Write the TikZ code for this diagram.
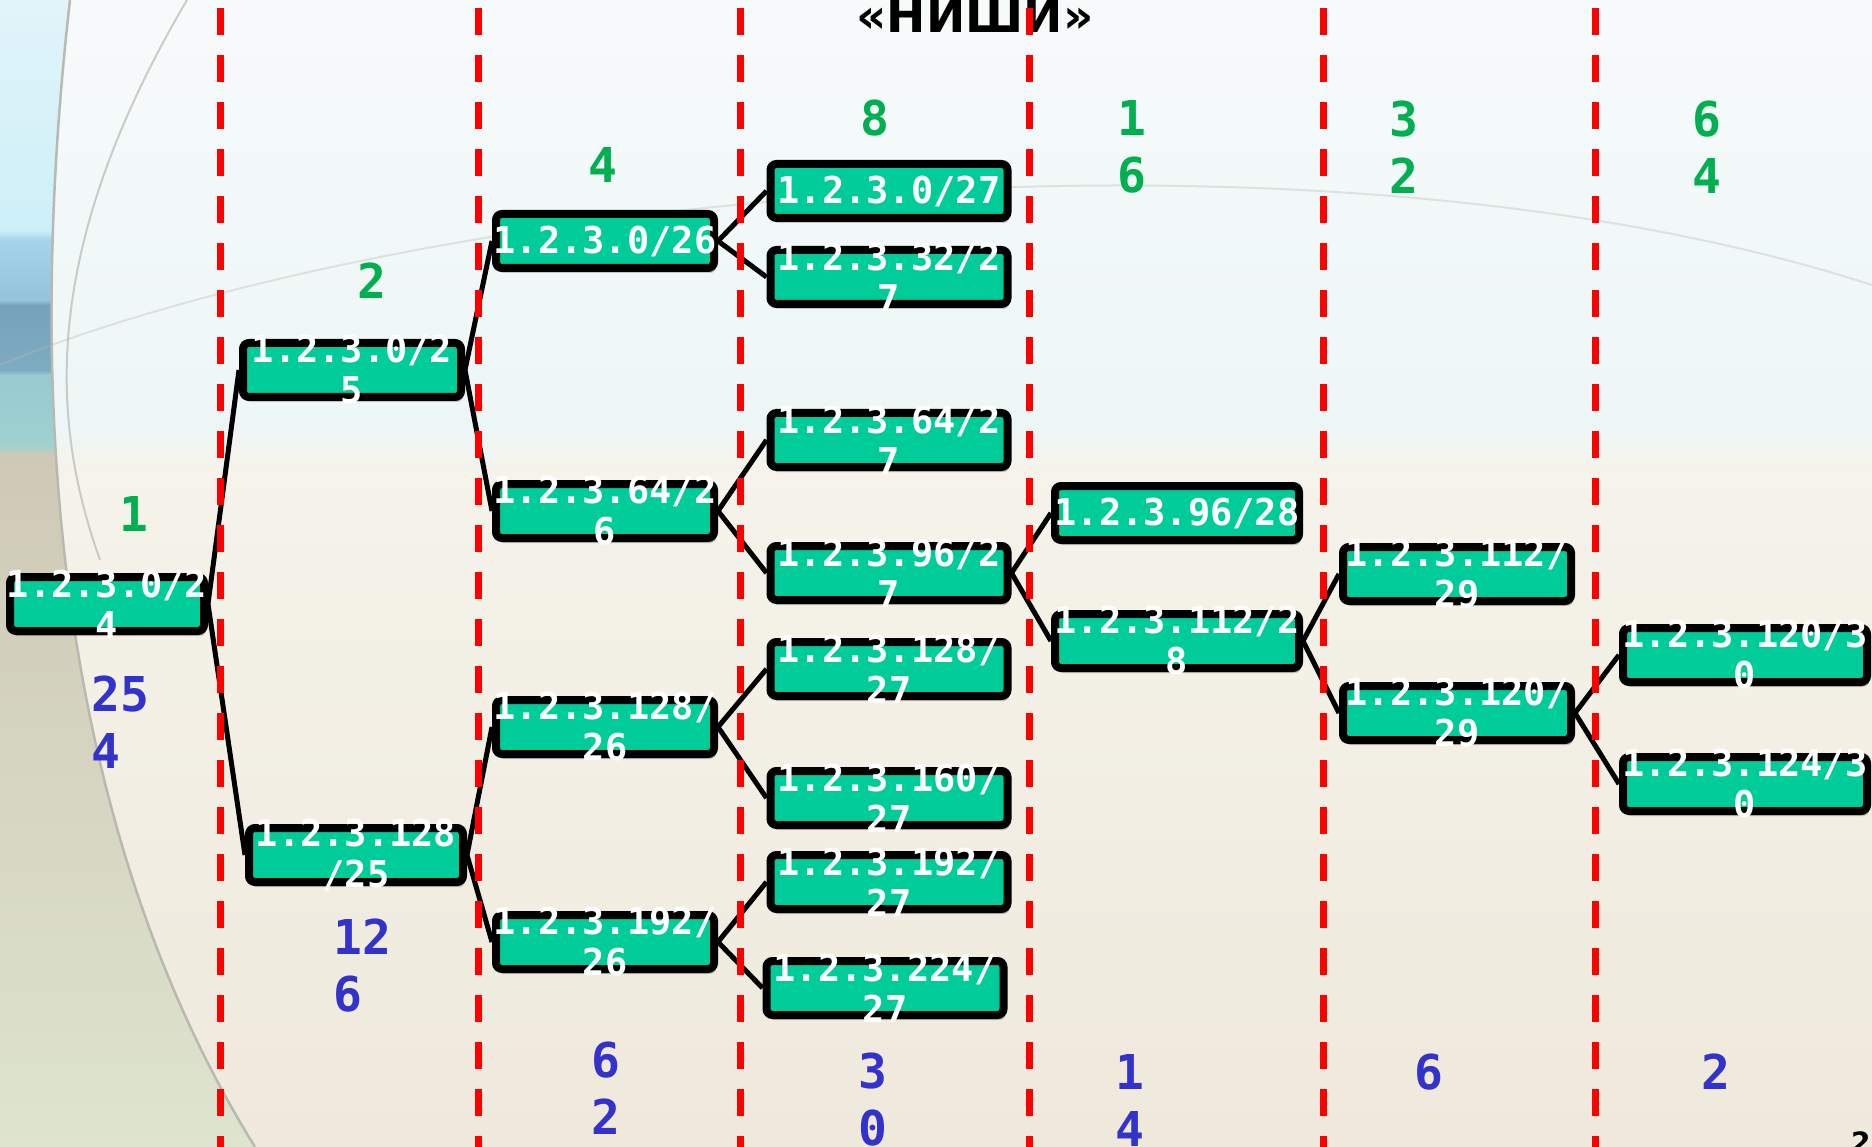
\documentclass[tikz,border=0pt]{standalone}
\usepackage{fontspec}
\usetikzlibrary{shadows}
\newfontfamily\dvmono{DejaVu Sans Mono}
\newfontfamily\dvsans{DejaVu Sans}
\definecolor{boxfill}{RGB}{0,204,153}
\definecolor{numgreen}{RGB}{0,176,80}
\definecolor{numblue}{RGB}{51,51,204}
\definecolor{divred}{RGB}{255,0,0}
\definecolor{bgA}{RGB}{247,250,250}
\definecolor{bgB}{RGB}{237,246,246}
\definecolor{bgC}{RGB}{245,243,234}
\definecolor{bgD}{RGB}{239,233,220}
\definecolor{lsA}{RGB}{222,228,206}
\definecolor{lsB}{RGB}{206,201,182}
\definecolor{lsC}{RGB}{160,208,208}
\definecolor{lsD}{RGB}{150,203,208}
\definecolor{lsE}{RGB}{125,172,193}
\definecolor{lsF}{RGB}{118,162,186}
\definecolor{lsG}{RGB}{148,196,220}
\definecolor{lsH}{RGB}{165,212,234}
\definecolor{lsI}{RGB}{205,240,248}
\definecolor{lsJ}{RGB}{225,244,249}
\definecolor{arcgray}{RGB}{185,185,178}
\pgfdeclareverticalshading{pagebg}{100bp}{%
  color(0bp)=(bgD); color(25bp)=(bgD); color(54.5bp)=(bgC); color(56.3bp)=(bgB);
  color(75bp)=(bgA); color(100bp)=(bgA)}
\pgfdeclareverticalshading{leftstrip}{100bp}{%
  color(0bp)=(lsA); color(25bp)=(lsA); color(55.17bp)=(lsB); color(55.6bp)=(lsC);
  color(58.65bp)=(lsD); color(58.87bp)=(lsE); color(61.7bp)=(lsF); color(61.92bp)=(lsG);
  color(64.54bp)=(lsH); color(64.97bp)=(lsI); color(75bp)=(lsJ); color(100bp)=(lsJ)}
\pgfdeclarelayer{bglayer}
\pgfdeclarelayer{linklayer}
\pgfsetlayers{bglayer,linklayer,main}
\begin{document}
\begin{tikzpicture}[x=1pt,y=-1pt,
  net/.style={draw=black, line width=8pt, fill=boxfill, rounded corners=6pt,
    minimum height=54pt, inner sep=0pt,
    drop shadow={shadow xshift=2pt, shadow yshift=-5pt, opacity=0.2, fill=black}},
  nettext/.style={text=white, font=\dvmono\bfseries\fontsize{37}{41}\selectfont,
    align=center, inner sep=0pt},
  link/.style={draw=black, line width=5pt},
  divider/.style={draw=divred, line width=7pt, dash pattern=on 27pt off 20pt},
  gnum/.style={text=numgreen, font=\dvmono\bfseries\fontsize{48}{57}\selectfont,
    align=center, inner sep=0pt},
  bnum/.style={text=numblue, font=\dvmono\bfseries\fontsize{48}{57}\selectfont,
    inner sep=0pt},
  titletext/.style={text=black, font=\dvsans\bfseries\fontsize{47}{50}\selectfont,
    inner sep=0pt, anchor=base},
]
\newcommand{\netnode}[5]{%
  \node[net, minimum width=#4] (#1) at (#2,#3) {};
  \node[nettext] (#1t) at (#1.center) {#5};}
\useasboundingbox (0,0) rectangle (1872,1147);
\begin{pgfonlayer}{bglayer}
\shade[shading=pagebg] (0,0) rectangle (1872,1147);
\shade[shading=leftstrip]
  (0,0) -- (70,0) .. controls (30,350) and (40,800) .. (255,1147) -- (0,1147) -- cycle;
\draw[arcgray, line width=2.5pt] (70,0) .. controls (30,350) and (40,800) .. (255,1147);
\draw[arcgray, line width=2pt, opacity=0.7] (187,0) .. controls (40,250) and (50,420) .. (100,560);
\draw[arcgray, line width=2pt, opacity=0.35] (0,365) .. controls (400,200) and (1300,100) .. (1872,285);
\node[titletext] (title) at (975,33) {«НИШИ»};
\end{pgfonlayer}
% boxes
\netnode{a}{107}{604}{194}{1.2.3.0/2\\4}
\netnode{b1}{352}{370}{218}{1.2.3.0/2\\5}
\netnode{b2}{356}{855}{214}{1.2.3.128\\/25}
\netnode{c1}{605}{241}{218}{1.2.3.0/26}
\netnode{c2}{605}{511}{218}{1.2.3.64/2\\6}
\netnode{c3}{605}{727}{218}{1.2.3.128/\\26}
\netnode{c4}{605}{942}{218}{1.2.3.192/\\26}
\netnode{d1}{889}{191}{237}{1.2.3.0/27}
\netnode{d2}{889}{277}{237}{1.2.3.32/2\\7}
\netnode{d3}{889}{440}{237}{1.2.3.64/2\\7}
\netnode{d4}{889}{573}{237}{1.2.3.96/2\\7}
\netnode{d5}{889}{669}{237}{1.2.3.128/\\27}
\netnode{d6}{889}{798}{237}{1.2.3.160/\\27}
\netnode{d7}{889}{882}{237}{1.2.3.192/\\27}
\netnode{d8}{885}{988}{237}{1.2.3.224/\\27}
\netnode{e1}{1177}{513}{244}{1.2.3.96/28}
\netnode{e2}{1177}{641}{244}{1.2.3.112/2\\8}
\netnode{f1}{1457}{574}{228}{1.2.3.112/\\29}
\netnode{f2}{1457}{713}{228}{1.2.3.120/\\29}
\netnode{g1}{1745}{655}{244}{1.2.3.120/3\\0}
\netnode{g2}{1745}{784}{244}{1.2.3.124/3\\0}
% connectors and dividers behind boxes
\begin{pgfonlayer}{linklayer}
\foreach \p/\c in {a/b1,a/b2,b1/c1,b1/c2,b2/c3,b2/c4,c1/d1,c1/d2,c2/d3,c2/d4,
  c3/d5,c3/d6,c4/d7,c4/d8,d4/e1,d4/e2,e2/f1,e2/f2,f2/g1,f2/g2}
  \draw[link] (\p.east) -- (\c.west);
\foreach \x/\n in {220/1,478/2,740/3,1029/4,1323/5,1595/6}{
  \coordinate (top\n) at (\x,8);
  \coordinate (bot\n) at (\x,1160);
  \draw[divider] (top\n) -- (bot\n);}
\end{pgfonlayer}
% green counts
\node[gnum] (g1n) at (134,514) {1};
\node[gnum] (g2n) at (372,281) {2};
\node[gnum] (g4n) at (603,165) {4};
\node[gnum] (g8n) at (875,118) {8};
\node[gnum] (g16n) at (1132,147) {1\\6};
\node[gnum] (g32n) at (1404,147) {3\\2};
\node[gnum] (g64n) at (1707,147) {6\\4};
% blue counts
\node[bnum, align=left, anchor=west] (b254) at (91,722) {25\\4};
\node[bnum, align=left, anchor=west] (b126) at (333,966) {12\\6};
\node[bnum, align=center] (b62) at (606,1088) {6\\2};
\node[bnum, align=center] (b30) at (873,1100) {3\\0};
\node[bnum, align=center] (b14) at (1130,1100) {1\\4};
\node[bnum] (b6) at (1429,1072) {6};
\node[bnum] (b2) at (1716,1072) {2};
% page number (cut off)
\node[text=black, font=\dvsans\bfseries\fontsize{28}{30}\selectfont, inner sep=0pt, anchor=north west] (pg) at (1851,1132) {2};
\end{tikzpicture}
\end{document}
